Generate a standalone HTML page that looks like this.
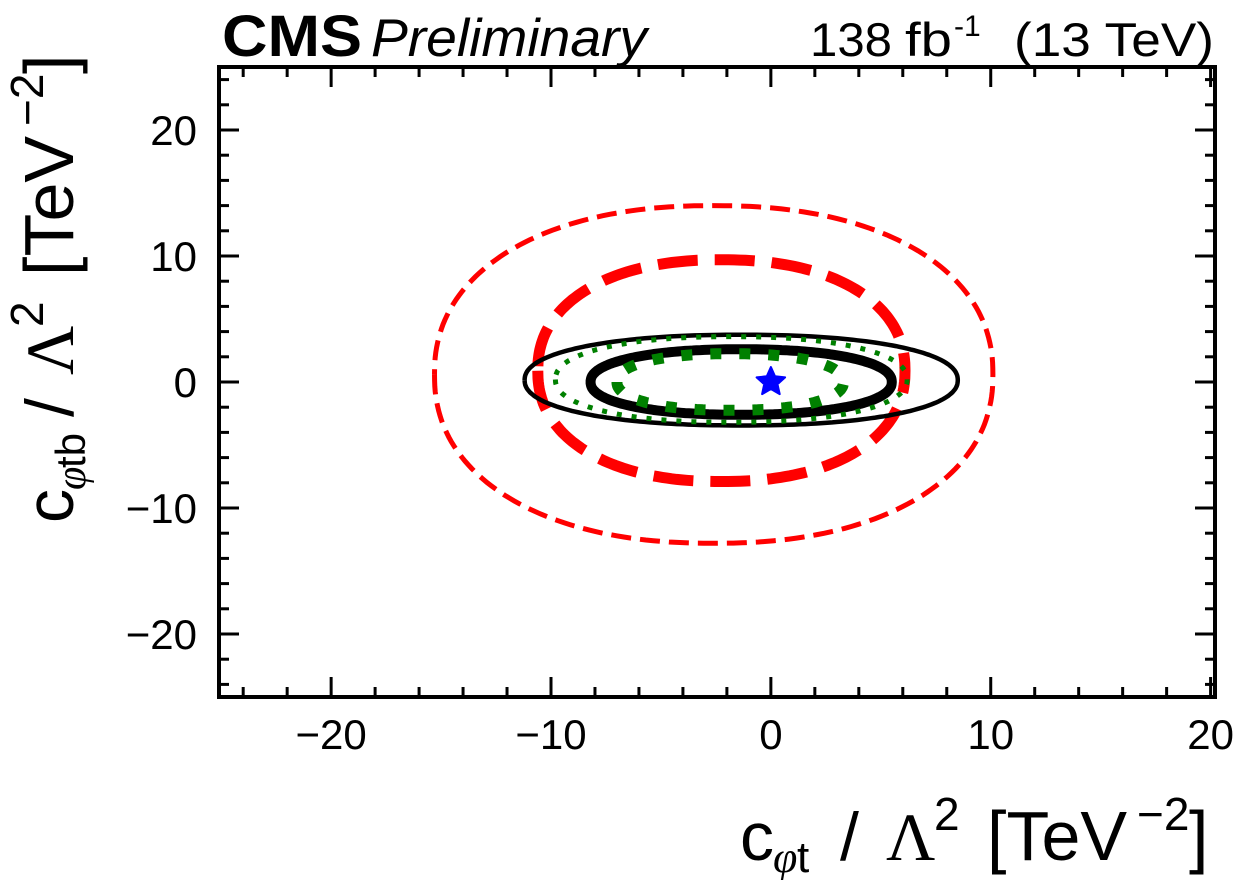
<!DOCTYPE html>
<html><head><meta charset="utf-8"><style>
body{margin:0;background:#fff;}
svg{display:block;font-family:"Liberation Sans",sans-serif;}
</style></head><body>
<svg id="chart" width="1237" height="880" viewBox="0 0 1237 880">
<g id="marks"></g>
<g id="axes"></g>
<text x="222" y="56" font-size="58" font-weight="bold" textLength="140" lengthAdjust="spacingAndGlyphs">CMS</text>
<text x="371" y="56" font-size="53" font-style="italic" textLength="276" lengthAdjust="spacingAndGlyphs">Preliminary</text>
<g font-size="47">
<text x="810" y="56" textLength="82" lengthAdjust="spacingAndGlyphs">138</text>
<text x="905" y="56" textLength="47" lengthAdjust="spacingAndGlyphs">fb</text>
<text x="954" y="36" font-size="30">-1</text>
<text x="1014" y="56" textLength="200" lengthAdjust="spacingAndGlyphs">(13 TeV)</text>
</g>
<g transform="translate(740,860)">
<text x="0" y="0" font-size="68">c</text>
<text x="33" y="12" font-size="44" font-family="Liberation Serif,serif" font-style="italic">φ</text>
<text x="57" y="12" font-size="44">t</text>
<text x="100" y="0" font-size="68">/</text>
<text x="146" y="0" font-size="68" font-family="Liberation Serif,serif">Λ</text>
<text x="194" y="-30" font-size="46">2</text>
<text x="247" y="0" font-size="70">[TeV</text>
<text x="397" y="-30" font-size="46">−2</text>
<text x="449" y="0" font-size="70">]</text>
</g>
<g transform="translate(73,523) rotate(-90)">
<text x="0" y="0" font-size="68">c</text>
<text x="33" y="12" font-size="42" font-family="Liberation Serif,serif" font-style="italic">φ</text>
<text x="55" y="12" font-size="42">tb</text>
<text x="106" y="0" font-size="68">/</text>
<text x="148" y="0" font-size="68" font-family="Liberation Serif,serif">Λ</text>
<text x="196" y="-30" font-size="46">2</text>
<text x="247" y="0" font-size="70">[TeV</text>
<text x="397" y="-30" font-size="46">−2</text>
<text x="449" y="0" font-size="70">]</text>
</g>
</svg>
<script>
const xTicks=[-20,-10,0,10,20];
const yTicks=[-20,-10,0,10,20];
const contourNames=['expected-stat-wide','expected-stat-narrow','observed-95','observed-68','green-95','green-68'];
const contourCx=[-2.6,-2.25,-1.35,-1.35,-1.8,-1.85];
const contourCy=[0.6,0.9,0.15,0,0.2,0];
const contourRx=[12.7,8.35,9.85,6.85,8.0,5.15];
const contourRy=[13.4,8.8,3.6,2.6,3.4,2.25];
const contourColor=['#ff0000','#ff0000','#000','#000','#008000','#008000'];
const contourWidth=[5,11,4.5,10,5,11];
const contourDash=['20,9','40,17','','','5,10','11,18'];
const bestFit=[0,0];
const X0=-25.1,X1=20.2,Y0=-25,Y1=25,L=219,R=1215,T=67,B=697;
const sx=v=>L+(v-X0)/(X1-X0)*(R-L);
const sy=v=>B-(v-Y0)/(Y1-Y0)*(B-T);
const NS='http://www.w3.org/2000/svg';
const marks=document.getElementById('marks'),axes=document.getElementById('axes');
function mk(tag,at,parent){const e=document.createElementNS(NS,tag);for(const k in at)e.setAttribute(k,at[k]);parent.appendChild(e);return e;}
for(let i=0;i<contourNames.length;i++){
  let d='';
  for(let k=0;k<=240;k++){const t=Math.PI+k/240*2*Math.PI;const c=Math.cos(t),s=Math.sin(t);
    const px=contourCx[i]+contourRx[i]*Math.sign(c)*Math.pow(Math.abs(c),0.9);
    const py=contourCy[i]+contourRy[i]*Math.sign(s)*Math.pow(Math.abs(s),0.9);
    d+=(k?'L':'M')+sx(px).toFixed(1)+','+sy(py).toFixed(1);}
  const p=mk('path',{d:d,fill:'none',stroke:contourColor[i],'stroke-width':contourWidth[i],'stroke-dasharray':contourDash[i]},marks);
  
  
}
const cx=sx(bestFit[0]),cy=sy(bestFit[1]);let sd='';
for(let k=0;k<10;k++){const r=k%2?7:15;const a=-Math.PI/2+k*Math.PI/5;sd+=(k?'L':'M')+(cx+r*Math.cos(a)).toFixed(1)+','+(cy+r*Math.sin(a)).toFixed(1);}
const star=mk('path',{d:sd+'Z',fill:'#0000ff',stroke:'#0000ff','stroke-width':2,'stroke-linejoin':'round'},marks);


const fr=mk('rect',{x:L,y:T,width:R-L,height:B-T,fill:'none',stroke:'#000','stroke-width':4},axes);


for(let v=-24;v<=20;v+=2){const x=sx(v);const len=v%10===0?20:10;
  mk('line',{x1:x,y1:B,x2:x,y2:B-len,stroke:'#000','stroke-width':3},axes);
  mk('line',{x1:x,y1:T,x2:x,y2:T+len,stroke:'#000','stroke-width':3},axes);}
for(let v=-24;v<=24;v+=2){const y=sy(v);const len=v%10===0?20:10;
  mk('line',{x1:L,y1:y,x2:L+len,y2:y,stroke:'#000','stroke-width':3},axes);
  mk('line',{x1:R,y1:y,x2:R-len,y2:y,stroke:'#000','stroke-width':3},axes);}
xTicks.forEach(v=>{const t=mk('text',{x:sx(v),y:749,'font-size':42,'text-anchor':'middle'},axes);t.textContent=v<0?'−'+(-v):String(v);
  
  });
yTicks.forEach(v=>{const t=mk('text',{x:197,y:sy(v)+15,'font-size':42,'text-anchor':'end'},axes);t.textContent=v<0?'−'+(-v):String(v);
  
  });
</script>
</body></html>
